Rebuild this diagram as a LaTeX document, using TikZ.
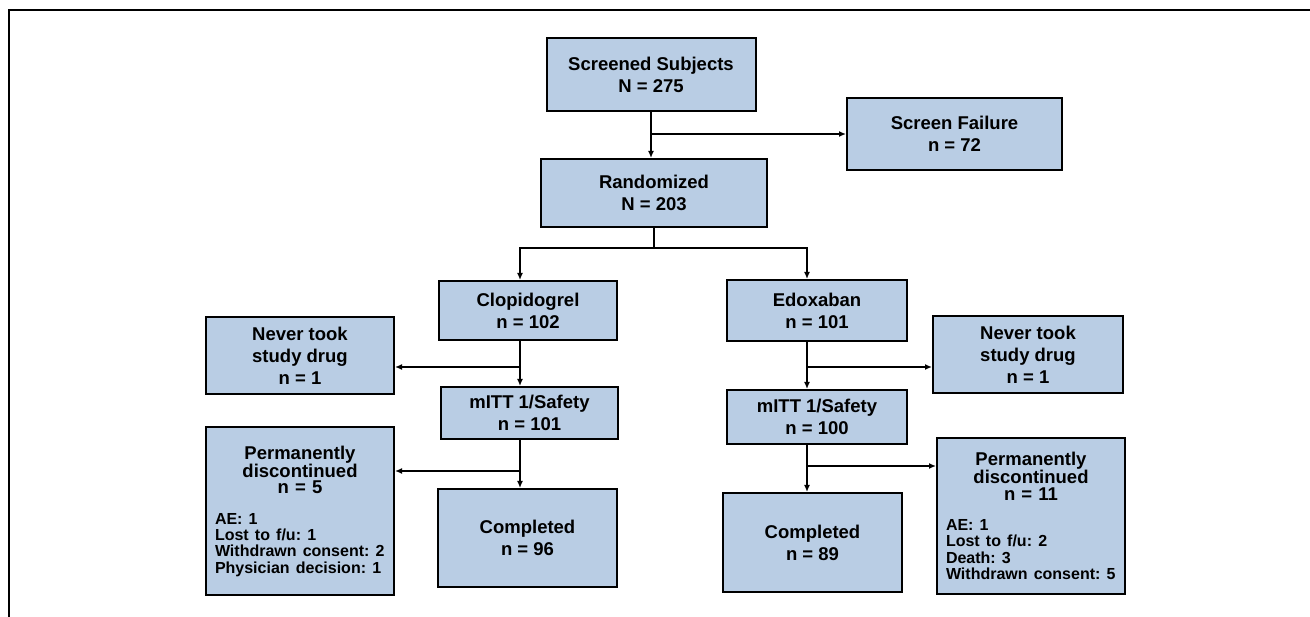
\documentclass[tikz,border=0pt]{standalone}
\usepackage{fontspec}
\setmainfont{Liberation Sans}
\usetikzlibrary{arrows.meta}
\definecolor{boxblue}{RGB}{185,205,228}

\begin{document}
\begin{tikzpicture}[
	x = 1pt, y = -1pt,
	box/.style = {draw = black, line width = 2pt, fill = boxblue, align = center, inner sep = 0pt, font = \bfseries\fontsize{18.5}{22}\selectfont},
	listbox/.style = {box, align = left, inner xsep = 9pt, text width = 170pt, execute at begin node = \frenchspacing},
	arr/.style = {-{Latex[length = 7pt, width = 6pt]}, line width = 1.6pt},
	frame/.style = {line width = 1.2pt}
	]
	\useasboundingbox (0, 0) rectangle (1310, 617);
	\draw[frame] (1310, 10) -| (9, 617);
	
	\node[box, minimum width = 209pt, minimum height = 73pt] (screened) at (651, 74.5) {Screened Subjects\\N = 275};
	\node[box, minimum width = 215pt, minimum height = 72pt] (fail) at (954.5, 134) {Screen Failure\\n = 72};
	\node[box, minimum width = 226pt, minimum height = 68pt] (rand) at (654, 193) {Randomized\\N = 203};
	
	\node[box, minimum width = 178pt, minimum height = 59pt] (clop) at (528, 310.5) {Clopidogrel\\n = 102};
	\node[box, minimum width = 180pt, minimum height = 61pt] (edox) at (817, 310.5) {Edoxaban\\n = 101};
	
	\node[box, minimum width = 188pt, minimum height = 77pt] (never1) at (300, 355.5) {Never took\\study drug\\n = 1};
	\node[box, minimum width = 177pt, minimum height = 52pt] (mitt1) at (529.5, 413) {mITT 1/Safety\\n = 101};
	\node[box, minimum width = 179pt, minimum height = 98pt] (comp1) at (527.5, 538) {Completed\\n = 96};
	\node[listbox, minimum height = 168pt] (perm1) at (300, 511) {%
		{\centering\fontsize{18.5}{16.5}\selectfont Permanently\\discontinued\\n = 5\par}
		\vspace{14pt}
		{\fontsize{16}{16.3}\selectfont AE: 1\\Lost to f/u: 1\\Withdrawn consent: 2\\Physician decision: 1\par}};
	
	\node[box, minimum width = 190pt, minimum height = 77pt] (never2) at (1028, 354.5) {Never took\\study drug\\n = 1};
	\node[box, minimum width = 180pt, minimum height = 54pt] (mitt2) at (817, 417) {mITT 1/Safety\\n = 100};
	\node[box, minimum width = 179pt, minimum height = 99pt] (comp2) at (812.5, 542.5) {Completed\\n = 89};
	\node[listbox, minimum height = 156pt] (perm2) at (1031, 516) {%
		{\centering\fontsize{18.5}{16.5}\selectfont Permanently\\discontinued\\n = 11\par}
		\vspace{14pt}
		{\fontsize{16}{16.3}\selectfont AE: 1\\Lost to f/u: 2\\Death: 3\\Withdrawn consent: 5\par}};
	
	% screening and randomization
	\draw[arr] (screened.south) -- (screened.south |- rand.north);
	\draw[arr] (screened.south |- fail.west) -- (fail.west);
	\coordinate (lt) at (520, 248);
	\coordinate (rt) at (807, 248);
	\draw[arr] (rand.south) |- (lt) -- (clop.north -| lt);
	\draw[arr] (rand.south) |- (rt) -- (edox.north -| rt);
	
	% clopidogrel arm
	\coordinate (lb1) at (520, 367);
	\coordinate (lb2) at (520, 471);
	\draw[arr] (clop.south -| lt) -- (mitt1.north -| lt);
	\draw[arr] (lb1) -- (lb1 -| never1.east);
	\draw[arr] (mitt1.south -| lt) -- (comp1.north -| lt);
	\draw[arr] (lb2) -- (lb2 -| perm1.east);
	
	% edoxaban arm
	\coordinate (rb1) at (807, 367);
	\coordinate (rb2) at (807, 466);
	\draw[arr] (edox.south -| rt) -- (mitt2.north -| rt);
	\draw[arr] (rb1) -- (rb1 -| never2.west);
	\draw[arr] (mitt2.south -| rt) -- (comp2.north -| rt);
	\draw[arr] (rb2) -- (rb2 -| perm2.west);

\end{tikzpicture}
\end{document}
